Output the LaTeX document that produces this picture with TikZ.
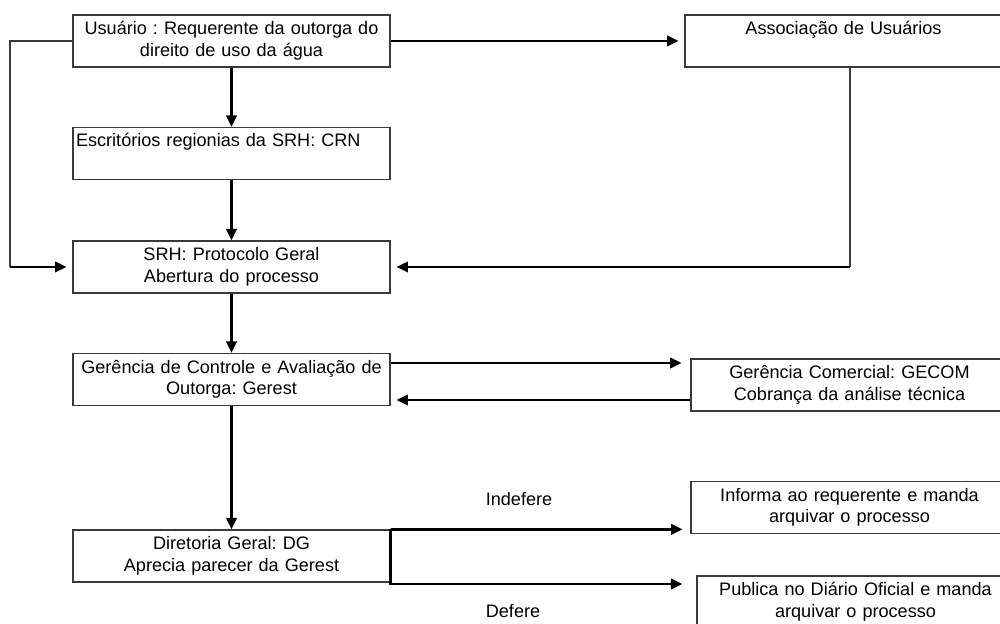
\documentclass[tikz,border=0pt]{standalone}
\usepackage{fontspec}
\setmainfont{Liberation Sans}
\frenchspacing
\usetikzlibrary{arrows.meta,positioning,calc}
\definecolor{Ink}{HTML}{000000}
\definecolor{Frame}{HTML}{3A3A3A}
\tikzset{
  >={Triangle[length=6.5pt,width=6pt]},
  box/.style={rectangle,draw=Frame,line width=.7pt,fill=white,inner xsep=1.7pt,inner ysep=0pt,text width=177pt,text height=.39cm,text depth=.65cm,align=center,font=\fontsize{10.3}{12.5}\selectfont},
  boxl/.style={box,align=left},
  flow/.style={->,line width=1.3pt,draw=Ink},
  side/.style={flow,shorten >=3.4pt},
  link/.style={line width=.6pt,draw=Frame},
  lab/.style={font=\fontsize{10.3}{12.5}\selectfont,inner sep=1pt}
}

\begin{document}
\begin{tikzpicture}[x=.02cm,y=-.02cm]
  \useasboundingbox (0,0) rectangle (1000,624);
  \clip (0,0) rectangle (1000,624);

  \node[box] (usr) at (231.5,41) {Usuário : Requerente da outorga do\\ direito de uso da água};
  \node[boxl] (esc) at (231.5,153.5) {Escritórios regionias da SRH: CRN};
  \node[box] (srh) at (231.5,267) {SRH: Protocolo Geral\\ Abertura do processo};
  \node[box] (ger) at (231.5,379.5) {Gerência de Controle e Avaliação de\\ Outorga: Gerest};
  \node[box] (dg) at (231.5,556) {Diretoria Geral: DG\\ Aprecia parecer da Gerest};
  \node[box] (asc) at (843.5,41) {Associação de Usuários};
  \node[box] (gec) at (849.5,385) {Gerência Comercial: GECOM\\ Cobrança da análise técnica};
  \node[box] (inf) at (849.5,507.5) {Informa ao requerente e manda\\ arquivar o processo};
  \node[box] (pub) at (855.5,602) {Publica no Diário Oficial e manda\\ arquivar o processo};

  \coordinate (lft) at (10,267);
  \coordinate (rgt) at (850,267);
  \coordinate (dgb) at (390,584);

  \draw[flow] (usr) -- (esc);
  \draw[flow] (esc) -- (srh);
  \draw[flow] (srh) -- (ger);
  \draw[flow] (ger) -- (dg);
  \draw[side] (usr) -- (asc);

  % retornos ao protocolo
  \draw[link] (usr.west) -| (lft);
  \draw[side] (lft) -- (srh.west);
  \draw[link] (rgt |- asc.south) -- (rgt);
  \draw[side] (rgt) -- (srh.east);

  \draw[side,shorten >=5pt] (ger.east |- 0,363) -- (gec.west |- 0,363);
  \draw[side] (gec.west |- 0,400) -- (ger.east |- 0,400);

  \draw[flow,shorten >=4.5pt] (dg.north east) -- (dg.north east -| inf.west);
  \draw[flow,shorten >=8pt] (dg.north east) |- (dgb -| pub.west);

  \node[lab] (ind) at (519,499) {Indefere};
  \node[lab] (def) at (513,611) {Defere};
\end{tikzpicture}
\end{document}
